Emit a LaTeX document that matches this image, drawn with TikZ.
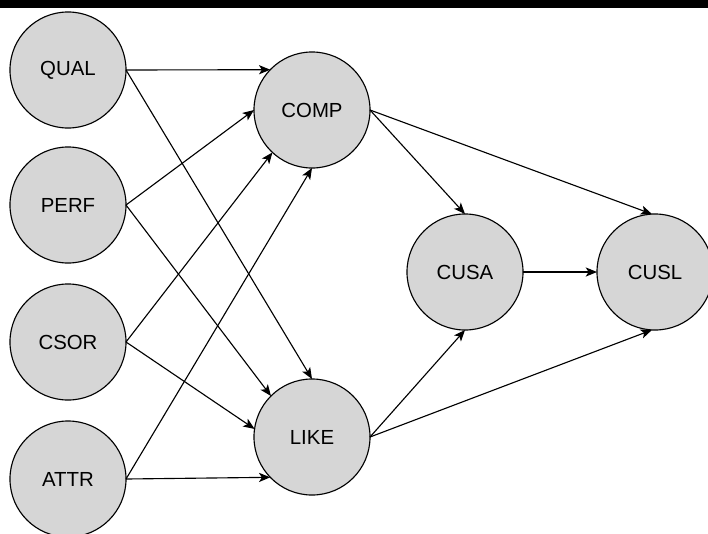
\documentclass[tikz,border=0pt]{standalone}
\usepackage{fontspec}
\setmainfont{Liberation Sans}
\usepackage{tikz}
\usetikzlibrary{arrows.meta, positioning}
\definecolor{varfill}{RGB}{214,214,214}

\begin{document}
\begin{tikzpicture}
        [
            x=0.025cm, y=-0.025cm,
            var/.style={circle, draw, fill=varfill, line width=0.8pt,
                        minimum size=2.9cm, inner sep=0pt, outer sep=0pt,
                        font=\fontsize{14.5}{17}\selectfont},
            path/.style={-{Stealth[length=8pt, width=6.5pt, inset=2pt]}, line width=0.8pt}
        ]
        \useasboundingbox (0,0) rectangle (708,533);
        \fill [black] (0,0) rectangle (708,8);
        \node (qual) [var] at (68,70) {QUAL};
        \node (perf) [var] at (68,205) {PERF};
        \node (csor) [var] at (68,342) {CSOR};
        \node (attr) [var] at (68,479) {ATTR};
        \node (comp) [var] at (312,110) {COMP};
        \node (like) [var] at (312,437) {LIKE};
        \node (cusa) [var] at (465,272) {CUSA};
        \node (cusl) [var] at (655,272) {CUSL};
        \foreach \i/\j in {qual.east/comp.136, qual.east/like.north,
                           perf.east/comp.west, perf.east/like.135,
                           csor.east/comp.227, csor.east/like.172,
                           attr.east/comp.south, attr.east/like.224,
                           comp.east/cusa.north, comp.east/cusl.93,
                           like.east/cusa.south, like.east/cusl.267,
                           cusa.east/cusl.west}
            \draw [path] (\i) -- (\j);
    \end{tikzpicture}
\end{document}
